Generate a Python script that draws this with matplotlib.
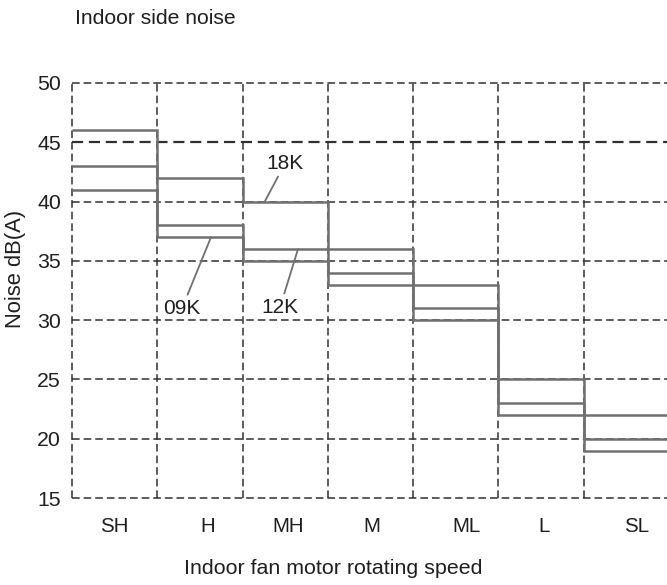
import numpy as np
import matplotlib
matplotlib.use("Agg")
from matplotlib import pyplot as plt

plt.rcParams['font.family'] = ['Liberation Sans', 'DejaVu Sans']

# fan speed steps and measured noise per unit, dB(A)
speeds = ['SH', 'H', 'MH', 'M', 'ML', 'L', 'SL']
noise_18k = [46, 42, 40, 36, 33, 25, 22]
noise_12k = [43, 38, 36, 34, 31, 23, 20]
noise_09k = [41, 37, 35, 33, 30, 22, 19]
yticks = [15, 20, 25, 30, 35, 40, 45, 50]

# small shifts so the speed names sit where they were lettered
label_shift = [0.0, 0.09, 0.04, 0.02, 0.13, 0.04, 0.12]

txt = '#1e1e1e'
grid_c = '#303030'
step_c = '#707070'

fig = plt.figure(figsize=(6.67, 5.85), dpi=100)
ax = fig.add_axes([72/667, 1 - 498/585, (669 - 72)/667, 415/585])

n = len(speeds)
edges = np.arange(n + 1)
ax.set_xlim(0, n)
ax.set_ylim(15, 50)

# dashed grid, also serves as the frame
for y in yticks:
    lw = 1.6 if y == 45 else 1.1
    ax.axhline(y, color=grid_c, lw=lw, ls=(0, (5, 2.6)), zorder=1, clip_on=False)
for x in edges:
    ax.axvline(x, color=grid_c, lw=1.1, ls=(0, (5, 2.6)), zorder=1, clip_on=False)

for vals in (noise_18k, noise_12k, noise_09k):
    ax.stairs(vals, edges, baseline=None, color=step_c, lw=1.8, zorder=3)

for sp in ax.spines.values():
    sp.set_visible(False)

ax.set_yticks(yticks)
ax.set_yticklabels([str(v) for v in yticks], fontsize=15.3, color=txt)
ax.set_xticks(np.arange(n) + 0.5 + np.array(label_shift))
ax.set_xticklabels(speeds, fontsize=14.8, color=txt)
ax.tick_params(axis='both', length=0)
ax.tick_params(axis='y', pad=8)
ax.tick_params(axis='x', pad=14)

# series labels with leader lines
lead = dict(arrowstyle='-', color=step_c, lw=1.3, shrinkA=1, shrinkB=0)
ax.annotate('18K', xy=(2.26, noise_18k[2]), xytext=(2.50, 43.25), ha='center', va='center',
            fontsize=15, color=txt, arrowprops=lead, zorder=4)
ax.annotate('09K', xy=(1.63, noise_09k[1]), xytext=(1.29, 31.0), ha='center', va='center',
            fontsize=15, color=txt, arrowprops=lead, zorder=4)
ax.annotate('12K', xy=(2.65, noise_12k[2]), xytext=(2.44, 31.1), ha='center', va='center',
            fontsize=15, color=txt, arrowprops=lead, zorder=4)

fig.text(75/667, 1 - 18/585, 'Indoor side noise', fontsize=15.2, color=txt, ha='left', va='center')
fig.text(333/667, 1 - 568/585, 'Indoor fan motor rotating speed', fontsize=15.4, color=txt,
         ha='center', va='center')
fig.text(15/667, 1 - 269/585, 'Noise dB(A)', fontsize=15.8, color=txt, rotation=90,
         ha='center', va='center')

fig.savefig('out.png', dpi=100)
